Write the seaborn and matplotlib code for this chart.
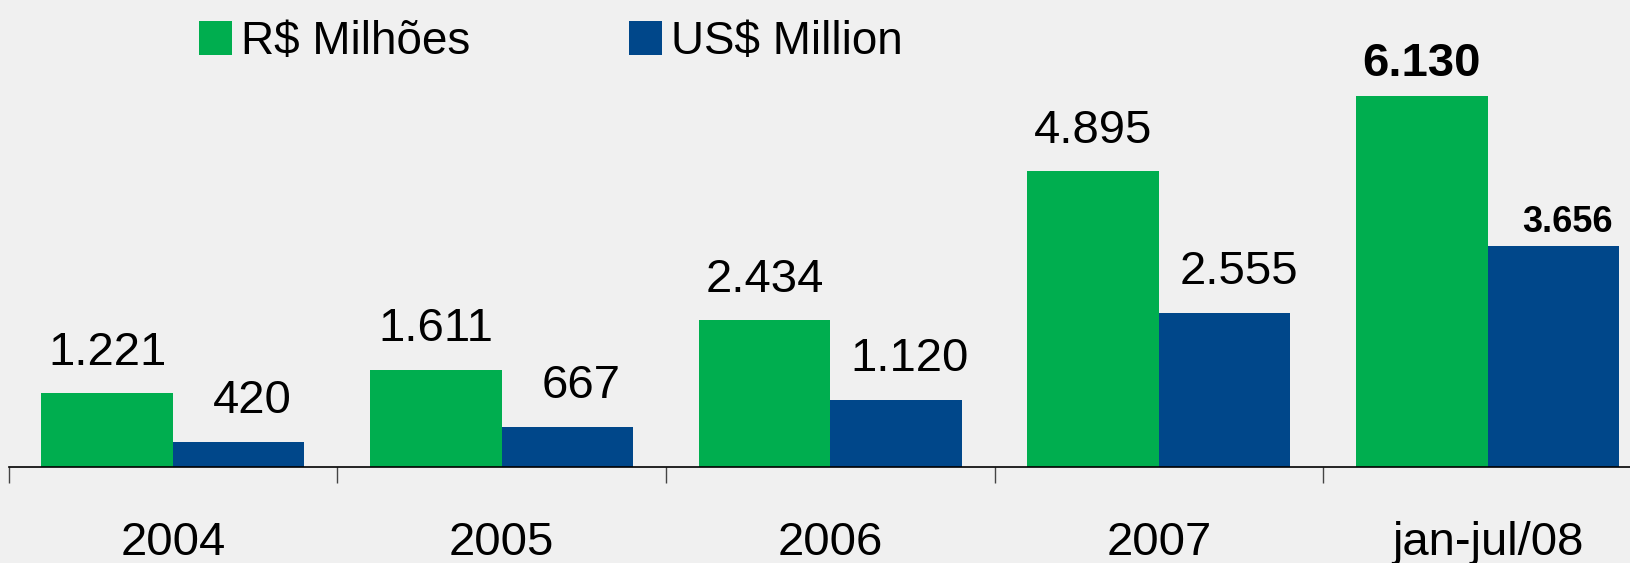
#!/usr/bin/env python
# coding: utf-8

# Imports
import pandas as pd
import seaborn as sns
import matplotlib
matplotlib.use('Agg')
import matplotlib.pyplot as plt
from matplotlib.patches import Patch

sns.set_theme(style="white")
plt.rcParams['font.family'] = ['Liberation Sans', 'DejaVu Sans']
plt.rcParams['text.color'] = 'black'

# Data
categories = ['2004', '2005', '2006', '2007', 'jan-jul/08']
brl_million = [1221, 1611, 2434, 4895, 6130]
usd_million = [420, 667, 1120, 2555, 3656]
series_names = ['R$ Milhões', 'US$ Million']

green = '#00AE4F'
blue = '#00478A'
bg = '#f0f0f0'

# Long format for seaborn
df = pd.DataFrame({
    'periodo': categories * 2,
    'moeda': [series_names[0]] * len(categories) + [series_names[1]] * len(categories),
    'valor': brl_million + usd_million,
})

def fmt_br(v):
    # thousands separator as in the original: 1.221
    return f"{v:,}".replace(',', '.')

# Figure: 1630 x 563 px
fig = plt.figure(figsize=(16.30, 5.63), dpi=100, facecolor=bg)
W, H = 1630, 563
base_px = 467.3          # baseline from top
px_per_unit = 0.0605
left_px, right_px = 8.5, 1652.0
ax = fig.add_axes([left_px / W, (H - base_px) / H, (right_px - left_px) / W, base_px / H])
ax.set_facecolor('none')

sns.barplot(data=df, x='periodo', y='valor', hue='moeda', order=categories,
            hue_order=series_names, palette=[green, blue], saturation=1,
            width=0.8, linewidth=0, legend=False, ax=ax)

ax.set_xlim(-0.5, len(categories) - 0.5)
ax.set_ylim(0, base_px / px_per_unit)
ax.set_xlabel('')
ax.set_ylabel('')
ax.set_yticks([])

# x axis: labels at centers, short ticks between groups
ax.set_xticks(range(len(categories)))
ax.set_xticklabels(categories, fontsize=34, color='black')
ax.tick_params(axis='x', which='major', length=0, pad=39, labelcolor='black')
ax.set_xticks([i - 0.5 for i in range(len(categories) + 1)], minor=True)
ax.tick_params(axis='x', which='minor', length=11.5, width=1, color='#444444', bottom=True)

for side in ['left', 'top', 'right']:
    ax.spines[side].set_visible(False)
ax.spines['bottom'].set_color('black')
ax.spines['bottom'].set_linewidth(1.2)

# Value labels
last = len(categories) - 1
for k, cont in enumerate(ax.containers):
    for i, bar in enumerate(cont.patches):
        val = [brl_million, usd_million][k][i]
        x = bar.get_x() + bar.get_width() / 2
        y = bar.get_height()
        dx = 0 if k == 0 else 10
        if i == last:
            size = 34 if k == 0 else 26
            dy = 15 if k == 0 else 10
            weight = 'bold'
        else:
            size, dy, weight = 34, 20.5, 'normal'
        ax.annotate(fmt_br(val), (x, y), xytext=(dx, dy), textcoords='offset points',
                    ha='center', va='baseline', fontsize=size, fontweight=weight,
                    color='black', annotation_clip=False)

# Legend across the top
handles = [Patch(facecolor=green, edgecolor='none'), Patch(facecolor=blue, edgecolor='none')]
leg = fig.legend(handles, series_names, loc='upper left', bbox_to_anchor=(199 / W, 1 - 20 / H),
                 ncol=2, frameon=False, fontsize=33, handlelength=0.72, handleheight=0.74,
                 handletextpad=0.2, columnspacing=3.45, borderpad=0, borderaxespad=0)
for t in leg.get_texts():
    t.set_color('black')

fig.savefig('out.png', dpi=100, facecolor=bg)
